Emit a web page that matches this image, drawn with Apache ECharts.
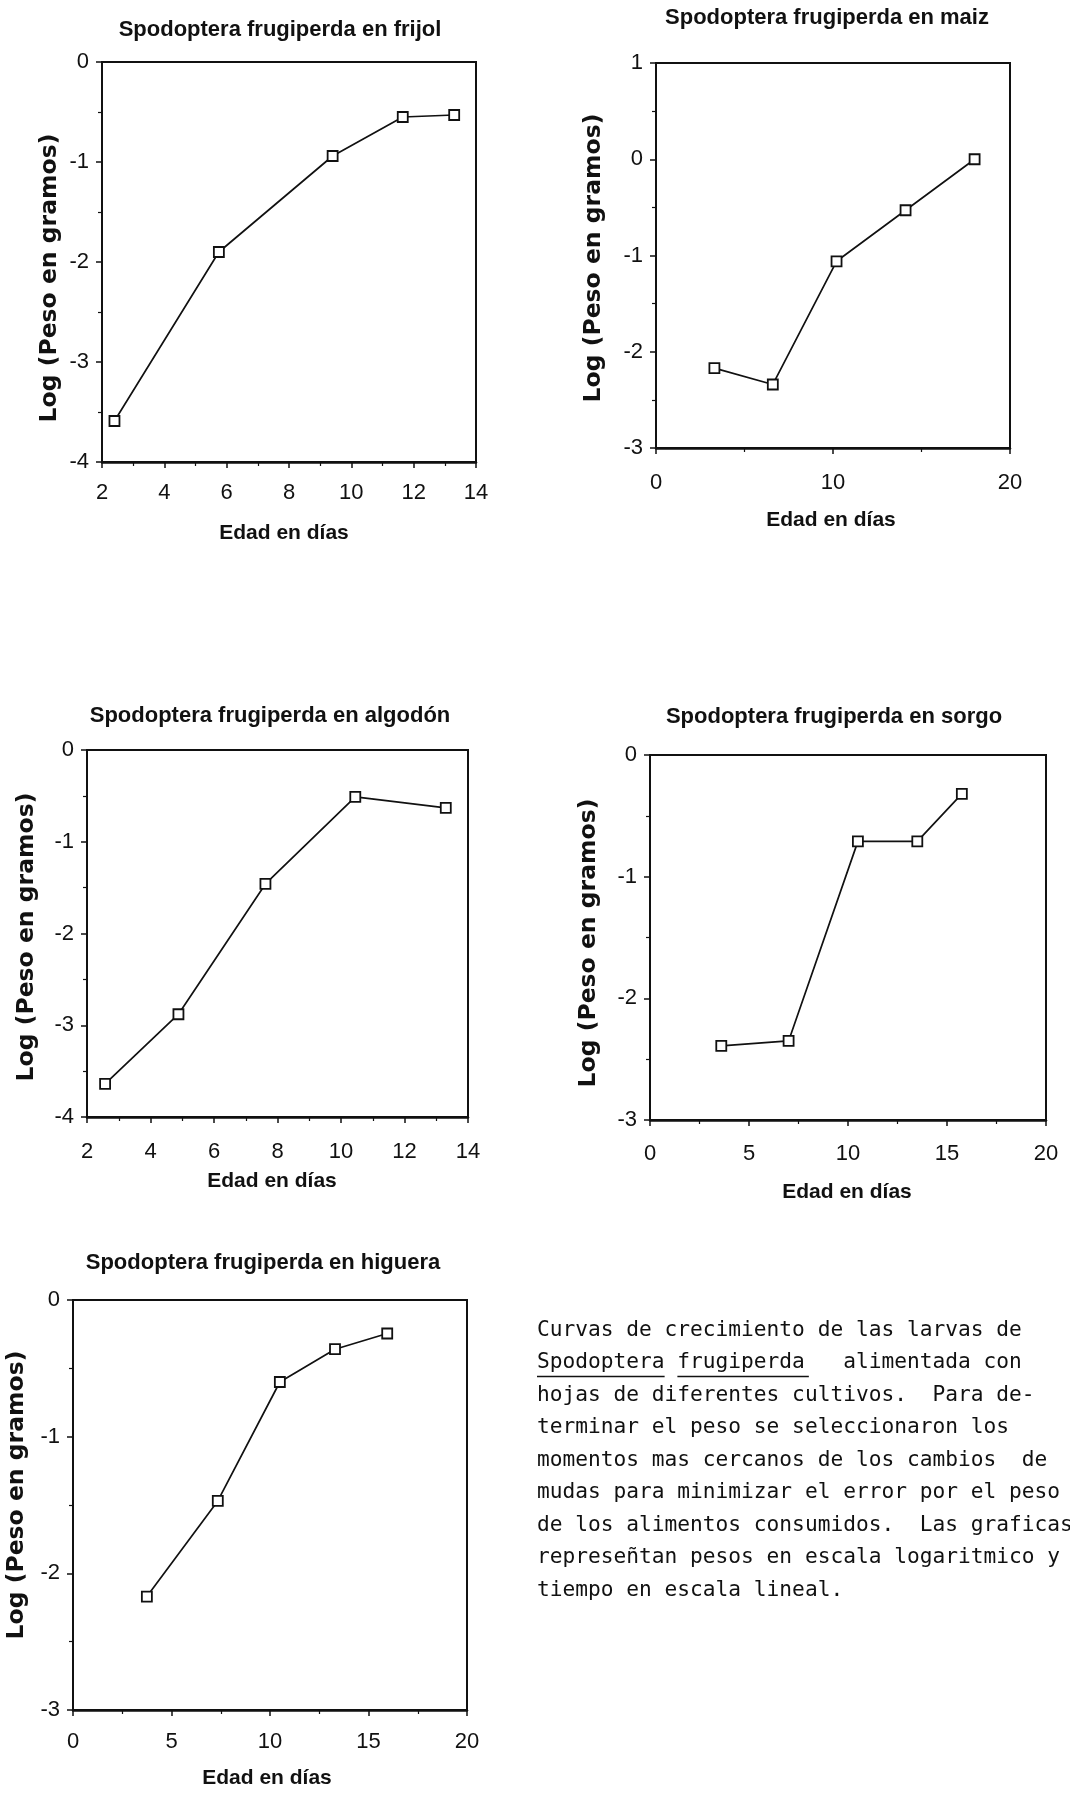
<!DOCTYPE html>
<html>
<head>
<meta charset="utf-8">
<script src="https://cdn.jsdelivr.net/npm/echarts@6/dist/echarts.min.js"></script>
<style>
html,body{margin:0;padding:0;background:#fff;}
#chart{width:1070px;height:1793px;}
</style>
</head>
<body>
<div id="chart"></div>
<script>
// ---- data ----
const titles = [
  'Spodoptera frugiperda en frijol',
  'Spodoptera frugiperda en maiz',
  'Spodoptera frugiperda en algodón',
  'Spodoptera frugiperda en sorgo',
  'Spodoptera frugiperda en higuera'
];
const xAxisTitle = 'Edad en días';
const yAxisTitle = 'Log (Peso en gramos)';

const days_frijol   = [2.4, 5.75, 9.4, 11.65, 13.3];
const log_frijol    = [-3.59, -1.90, -0.94, -0.55, -0.53];
const days_maiz     = [3.3, 6.6, 10.2, 14.1, 18.0];
const log_maiz      = [-2.17, -2.34, -1.06, -0.53, 0.0];
const days_algodon  = [2.57, 4.88, 7.62, 10.45, 13.3];
const log_algodon   = [-3.64, -2.88, -1.46, -0.51, -0.63];
const days_sorgo    = [3.6, 7.0, 10.5, 13.5, 15.75];
const log_sorgo     = [-2.39, -2.35, -0.71, -0.71, -0.32];
const days_higuera  = [3.75, 7.35, 10.5, 13.3, 15.95];
const log_higuera   = [-2.17, -1.47, -0.60, -0.36, -0.245];

// axis ranges (tick labels)
const xMin = [2, 0, 2, 0, 0];
const xMax = [14, 20, 14, 20, 20];
const xStep = [2, 10, 2, 5, 5];
const yMin = [-4, -3, -4, -3, -3];
const yMax = [0, 1, 0, 0, 0];
const yStep = [1, 1, 1, 1, 1];

const captionLines = [
  'Curvas de crecimiento de las larvas de',
  'Spodoptera frugiperda   alimentada con',
  'hojas de diferentes cultivos.  Para de-',
  'terminar el peso se seleccionaron los',
  'momentos mas cercanos de los cambios  de',
  'mudas para minimizar el error por el peso',
  'de los alimentos consumidos.  Las graficas',
  'represeñtan pesos en escala logaritmico y',
  'tiempo en escala lineal.'
];

// ---- layout ----
const seriesX = [days_frijol, days_maiz, days_algodon, days_sorgo, days_higuera];
const seriesY = [log_frijol, log_maiz, log_algodon, log_sorgo, log_higuera];
const grids = [
  {left: 102, top: 62,   width: 374, height: 400},
  {left: 656, top: 63,   width: 354, height: 385},
  {left: 87,  top: 750,  width: 381, height: 367},
  {left: 650, top: 755,  width: 396, height: 365},
  {left: 73,  top: 1300, width: 394, height: 410}
];
const titlePos  = [[280, 30], [827, 18], [270, 716], [834, 717], [263, 1263]];
const xTitlePos = [[284, 533], [831, 520], [272, 1181], [847, 1192], [267, 1778]];
const yTitlePos = [[50, 278], [594, 258], [27, 937], [589, 943], [17, 1495]];
const xLabelMargin = [20, 24, 24, 23, 21];

const INK = '#111';
const titleFont = 'Liberation Sans, Arial, sans-serif';
const tickFont = "'Liberation Sans Narrow', 'Liberation Sans', sans-serif";

const chart = echarts.init(document.getElementById('chart'), null, {renderer: 'canvas'});

const option = {
  backgroundColor: '#fff',
  animation: false,
  title: titles.map((t, i) => ({
    text: t,
    left: titlePos[i][0], top: titlePos[i][1],
    textAlign: 'center', textVerticalAlign: 'middle',
    padding: 0,
    textStyle: {fontFamily: titleFont, fontWeight: 'bold', fontSize: 22, color: INK}
  })),
  grid: grids.map(g => Object.assign({show: true, borderColor: INK, borderWidth: 2, backgroundColor: 'transparent', containLabel: false}, g)),
  xAxis: grids.map((g, i) => ({
    type: 'value', gridIndex: i,
    min: xMin[i], max: xMax[i], interval: xStep[i],
    axisLine: {show: true, onZero: false, lineStyle: {color: INK, width: 2.5}},
    axisTick: {show: true, inside: false, length: 6, lineStyle: {color: INK, width: 1.5}},
    minorTick: {show: true, splitNumber: 2, length: 4, lineStyle: {color: INK, width: 1.2}},
    splitLine: {show: false},
    axisLabel: {show: true, margin: xLabelMargin[i], color: INK, fontFamily: tickFont, fontSize: 22, showMinLabel: true, showMaxLabel: true}
  })),
  yAxis: grids.map((g, i) => ({
    type: 'value', gridIndex: i,
    min: yMin[i], max: yMax[i], interval: yStep[i],
    axisLine: {show: true, onZero: false, lineStyle: {color: INK, width: 2}},
    axisTick: {show: true, inside: false, length: 6, lineStyle: {color: INK, width: 1.5}},
    minorTick: {show: true, splitNumber: 2, length: 4, lineStyle: {color: INK, width: 1.2}},
    splitLine: {show: false},
    axisLabel: {show: true, margin: 13, color: INK, fontFamily: tickFont, fontSize: 22, showMinLabel: true, showMaxLabel: true}
  })),
  series: seriesX.map((xs, i) => ({
    type: 'line',
    xAxisIndex: i, yAxisIndex: i,
    data: xs.map((x, k) => [x, seriesY[i][k]]),
    symbol: 'rect', symbolSize: 10,
    showAllSymbol: true,
    lineStyle: {color: INK, width: 1.7},
    itemStyle: {color: '#fff', borderColor: INK, borderWidth: 1.8},
    emphasis: {disabled: true},
    z: 3
  })),
  graphic: []
};

// axis titles
xTitlePos.forEach(p => {
  option.graphic.push({
    type: 'text', x: p[0], y: p[1],
    style: {text: xAxisTitle, fill: INK, font: 'bold 21px ' + titleFont, textAlign: 'center', textVerticalAlign: 'middle'}
  });
});
yTitlePos.forEach(p => {
  option.graphic.push({
    type: 'text', x: p[0], y: p[1], rotation: Math.PI / 2,
    style: {text: yAxisTitle, fill: INK, font: "bold 23.5px 'DejaVu Sans', sans-serif", textAlign: 'center', textVerticalAlign: 'middle'}
  });
});

// caption block
const capX = 537, capY0 = 1330, capLH = 32.5, capFont = 21.2, capCharW = 0.602 * capFont;
option.graphic.push({
  type: 'text', x: capX, y: capY0 - capLH / 2,
  style: {
    text: captionLines.join('\n'),
    fill: INK,
    font: capFont + "px 'DejaVu Sans Mono', monospace",
    lineHeight: capLH,
    textAlign: 'left', textVerticalAlign: 'top'
  }
});
// underline of the species name on caption line 2 (two words, as in the typescript)
const ulY = capY0 + capLH + 14;
[[0, 10], [11, 21.3]].forEach(r => {
  option.graphic.push({
    type: 'line',
    shape: {x1: capX + r[0] * capCharW, y1: ulY, x2: capX + r[1] * capCharW, y2: ulY},
    style: {stroke: INK, lineWidth: 1.4}
  });
});

chart.setOption(option);
</script>
</body>
</html>
